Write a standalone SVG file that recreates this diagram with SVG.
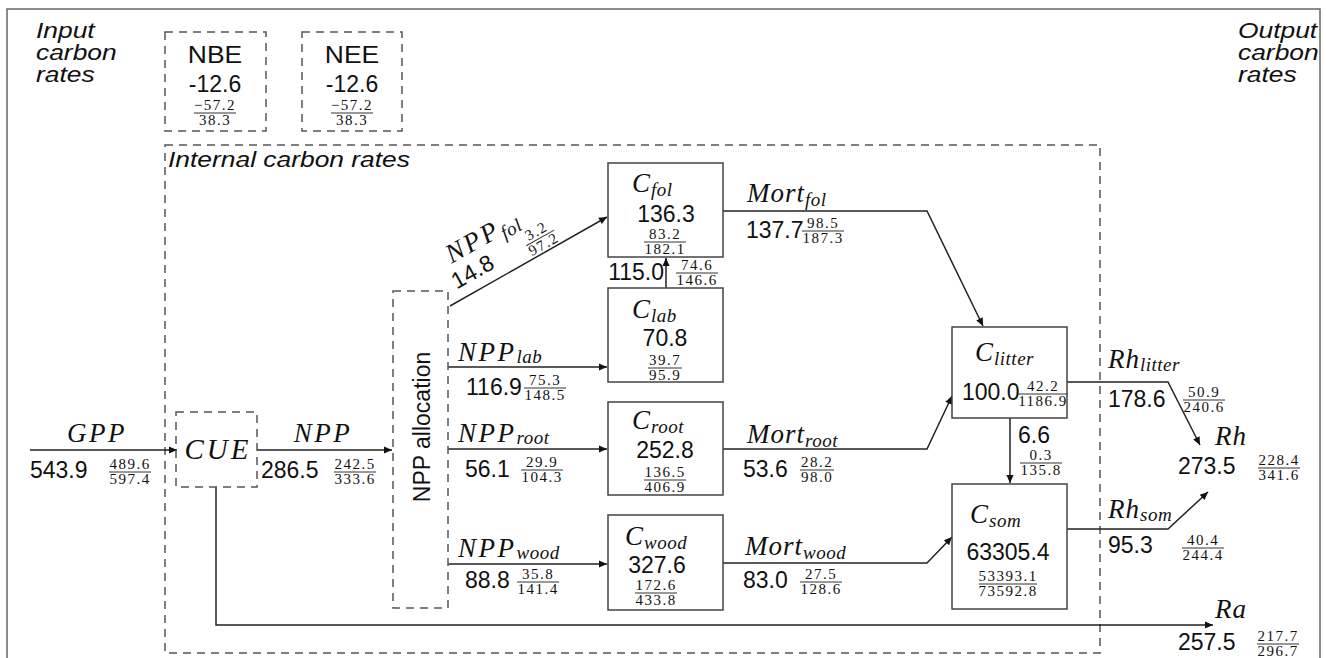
<svg xmlns="http://www.w3.org/2000/svg" width="1326" height="658" viewBox="0 0 1326 658">
<defs>
<marker id="ah" viewBox="0 0 10 10" refX="10" refY="5" markerWidth="12" markerHeight="8" markerUnits="userSpaceOnUse" orient="auto"><path d="M0,0.5 L10,5 L0,9.5 z" fill="#111"/></marker>
<style>
.num{font-family:"Liberation Sans",Arial,sans-serif;font-size:23px;fill:#111}
.mid{text-anchor:middle}
.end{text-anchor:end}
.ital{font-family:"Liberation Sans",Arial,sans-serif;font-style:italic;font-size:22px;fill:#111}
.math{font-family:"Liberation Serif","Times New Roman",serif;font-style:italic;font-size:27px;fill:#111;letter-spacing:1px}
.wide{letter-spacing:2.5px}
.sub{font-size:19px;letter-spacing:0.5px}
.fr{font-family:"Liberation Serif","Times New Roman",serif;font-size:15px;letter-spacing:1.5px;text-anchor:middle;fill:#111}
.fl{stroke:#333;stroke-width:1}
.box{fill:#fff;stroke:#444;stroke-width:1.5}
.dash{fill:none;stroke:#555;stroke-width:1.5;stroke-dasharray:8 6}
.conn{fill:none;stroke:#222;stroke-width:1.5;marker-end:url(#ah)}
.frame{fill:none;stroke:#666;stroke-width:1.5}
</style>
</defs>
<rect width="1326" height="658" fill="#fff"/>
<rect class="frame" x="7" y="9" width="1313" height="670"/>

<g id="titles">
<g transform="translate(36,0) scale(1.2,1)">
<text class="ital" x="0" y="38">Input</text>
<text class="ital" x="0" y="60">carbon</text>
<text class="ital" x="0" y="82">rates</text>
</g>
<g transform="translate(1238,0) scale(1.2,1)">
<text class="ital" x="0" y="38">Output</text>
<text class="ital" x="0" y="60">carbon</text>
<text class="ital" x="0" y="82">rates</text>
</g>
</g>

<g id="internal">
<rect class="dash" x="165" y="145" width="935" height="508"/>
<text class="ital" transform="translate(168,167) scale(1.2,1)">Internal carbon rates</text>
</g>

<g id="NBE">
<rect class="dash" x="165" y="32" width="101" height="99"/>
<text class="num mid" transform="translate(215,63) scale(1.15,1)">NBE</text>
<text class="num mid" x="215" y="92">-12.6</text>
<g transform="translate(215,113)"><text class="fr" y="-3">−57.2</text><line class="fl" x1="-21" x2="21"/><text class="fr" y="12">38.3</text></g>
</g>
<g id="NEE">
<rect class="dash" x="302" y="32" width="100" height="99"/>
<text class="num mid" transform="translate(352,63) scale(1.15,1)">NEE</text>
<text class="num mid" x="352" y="92">-12.6</text>
<g transform="translate(352,113)"><text class="fr" y="-3">−57.2</text><line class="fl" x1="-21" x2="21"/><text class="fr" y="12">38.3</text></g>
</g>

<g id="connectors">
<line class="conn" x1="30" y1="450" x2="177" y2="450"/>
<line class="conn" x1="257" y1="450" x2="392" y2="450"/>
<polyline class="conn" points="216,487 216,625 1213,625"/>
<line class="conn" x1="450" y1="306" x2="607" y2="217"/>
<line class="conn" x1="448" y1="367" x2="607" y2="367"/>
<line class="conn" x1="448" y1="449" x2="607" y2="449"/>
<line class="conn" x1="448" y1="564" x2="607" y2="564"/>
<line class="conn" x1="666" y1="288" x2="666" y2="258"/>
<polyline class="conn" points="723,211 927,211 983,326"/>
<polyline class="conn" points="723,449 927,449 952,396"/>
<polyline class="conn" points="723,563 927,563 952,537"/>
<line class="conn" x1="1010" y1="418" x2="1010" y2="483"/>
<polyline class="conn" points="1067,382 1168,382 1200,445"/>
<polyline class="conn" points="1067,529 1168,529 1208,492"/>
</g>

<g id="CUE">
<rect class="dash" x="176" y="412" width="81" height="75"/>
<text class="math mid" x="218" y="459" style="font-size:29px;letter-spacing:3px">CUE</text>
</g>

<g id="NPPalloc">
<rect class="dash" x="393" y="291" width="55" height="317"/>
<text class="num mid" transform="translate(430,427) rotate(-90)">NPP allocation</text>
</g>

<g id="Cfol">
<rect class="box" x="608" y="163" width="115" height="94"/>
<text class="math" x="632" y="192">C<tspan class="sub" dy="4">fol</tspan></text>
<text class="num mid" x="666" y="222">136.3</text>
<g transform="translate(665,242)"><text class="fr" y="-3">83.2</text><line class="fl" x1="-21" x2="21"/><text class="fr" y="12">182.1</text></g>
</g>
<g id="Clab">
<rect class="box" x="608" y="288" width="115" height="94"/>
<text class="math" x="632" y="318">C<tspan class="sub" dy="4">lab</tspan></text>
<text class="num mid" x="665" y="346">70.8</text>
<g transform="translate(665,368)"><text class="fr" y="-3">39.7</text><line class="fl" x1="-17" x2="17"/><text class="fr" y="12">95.9</text></g>
</g>
<g id="Croot">
<rect class="box" x="608" y="402" width="115" height="93"/>
<text class="math" x="632" y="429">C<tspan class="sub" dy="4">root</tspan></text>
<text class="num mid" x="665" y="458">252.8</text>
<g transform="translate(665,480)"><text class="fr" y="-3">136.5</text><line class="fl" x1="-21" x2="21"/><text class="fr" y="12">406.9</text></g>
</g>
<g id="Cwood">
<rect class="box" x="608" y="515" width="115" height="95"/>
<text class="math" x="625" y="545">C<tspan class="sub" dy="4">wood</tspan></text>
<text class="num mid" x="657" y="573">327.6</text>
<g transform="translate(656,593)"><text class="fr" y="-3">172.6</text><line class="fl" x1="-21" x2="21"/><text class="fr" y="12">433.8</text></g>
</g>
<g id="Clitter">
<rect class="box" x="952" y="327" width="115" height="91"/>
<text class="math" x="975" y="361">C<tspan class="sub" dy="4">litter</tspan></text>
<text class="num" x="962" y="400">100.0</text>
<g transform="translate(1043,394)"><text class="fr" y="-3">42.2</text><line class="fl" x1="-25" x2="25"/><text class="fr" y="12">1186.9</text></g>
</g>
<g id="Csom">
<rect class="box" x="952" y="484" width="115" height="125"/>
<text class="math" x="970" y="523">C<tspan class="sub" dy="4">som</tspan></text>
<text class="num mid" x="1008" y="560">63305.4</text>
<g transform="translate(1008,584)"><text class="fr" y="-3">53393.1</text><line class="fl" x1="-29" x2="29"/><text class="fr" y="12">73592.8</text></g>
</g>

<g id="labels">
<text class="math mid wide" x="97" y="442">GPP</text>
<text class="num" x="30" y="478">543.9</text>
<g transform="translate(130,472)"><text class="fr" y="-3">489.6</text><line class="fl" x1="-21" x2="21"/><text class="fr" y="12">597.4</text></g>

<text class="math mid wide" x="323" y="442">NPP</text>
<text class="num" x="261" y="478">286.5</text>
<g transform="translate(355,472)"><text class="fr" y="-3">242.5</text><line class="fl" x1="-21" x2="21"/><text class="fr" y="12">333.6</text></g>

<g transform="translate(450,306) rotate(-29.4)">
<text class="math wide" x="22" y="-36">NPP<tspan class="sub" dy="5">fol</tspan></text>
<text class="num" x="14" y="-11">14.8</text>
<g transform="translate(112,-15)"><text class="fr" y="-3">3.2</text><line class="fl" x1="-16" x2="16"/><text class="fr" y="12">97.2</text></g>
</g>

<text class="math wide" x="458" y="361">NPP<tspan class="sub" dy="2">lab</tspan></text>
<text class="num" x="466" y="395">116.9</text>
<g transform="translate(545,388)"><text class="fr" y="-3">75.3</text><line class="fl" x1="-21" x2="21"/><text class="fr" y="12">148.5</text></g>

<text class="math wide" x="458" y="442">NPP<tspan class="sub" dy="2">root</tspan></text>
<text class="num" x="465" y="477">56.1</text>
<g transform="translate(542,470)"><text class="fr" y="-3">29.9</text><line class="fl" x1="-21" x2="21"/><text class="fr" y="12">104.3</text></g>

<text class="math wide" x="458" y="557">NPP<tspan class="sub" dy="2">wood</tspan></text>
<text class="num" x="465" y="588">88.8</text>
<g transform="translate(538,582)"><text class="fr" y="-3">35.8</text><line class="fl" x1="-21" x2="21"/><text class="fr" y="12">141.4</text></g>

<text class="num end" x="664" y="280">115.0</text>
<g transform="translate(697,273)"><text class="fr" y="-3">74.6</text><line class="fl" x1="-21" x2="21"/><text class="fr" y="12">146.6</text></g>

<text class="math" x="747" y="202">Mort<tspan class="sub" dy="4">fol</tspan></text>
<text class="num" x="746" y="238">137.7</text>
<g transform="translate(823,231)"><text class="fr" y="-3">98.5</text><line class="fl" x1="-21" x2="21"/><text class="fr" y="12">187.3</text></g>

<text class="math" x="747" y="443">Mort<tspan class="sub" dy="4">root</tspan></text>
<text class="num" x="743" y="477">53.6</text>
<g transform="translate(817,470)"><text class="fr" y="-3">28.2</text><line class="fl" x1="-17" x2="17"/><text class="fr" y="12">98.0</text></g>

<text class="math" x="745" y="555">Mort<tspan class="sub" dy="4">wood</tspan></text>
<text class="num" x="743" y="588">83.0</text>
<g transform="translate(821,582)"><text class="fr" y="-3">27.5</text><line class="fl" x1="-21" x2="21"/><text class="fr" y="12">128.6</text></g>

<text class="num" x="1018" y="443">6.6</text>
<g transform="translate(1041,463)"><text class="fr" y="-3">0.3</text><line class="fl" x1="-21" x2="21"/><text class="fr" y="12">135.8</text></g>

<text class="math" x="1108" y="368">Rh<tspan class="sub" dy="3">litter</tspan></text>
<text class="num" x="1108" y="407">178.6</text>
<g transform="translate(1204,400)"><text class="fr" y="-3">50.9</text><line class="fl" x1="-21" x2="21"/><text class="fr" y="12">240.6</text></g>

<text class="math" x="1215" y="445">Rh</text>
<text class="num" x="1178" y="474">273.5</text>
<g transform="translate(1279,468)"><text class="fr" y="-3">228.4</text><line class="fl" x1="-21" x2="21"/><text class="fr" y="12">341.6</text></g>

<text class="math" x="1108" y="518">Rh<tspan class="sub" dy="3">som</tspan></text>
<text class="num" x="1108" y="553">95.3</text>
<g transform="translate(1203,548)"><text class="fr" y="-3">40.4</text><line class="fl" x1="-21" x2="21"/><text class="fr" y="12">244.4</text></g>

<text class="math" x="1215" y="618">Ra</text>
<text class="num" x="1178" y="650">257.5</text>
<g transform="translate(1278,644)"><text class="fr" y="-3">217.7</text><line class="fl" x1="-21" x2="21"/><text class="fr" y="12">296.7</text></g>
</g>
</svg>
